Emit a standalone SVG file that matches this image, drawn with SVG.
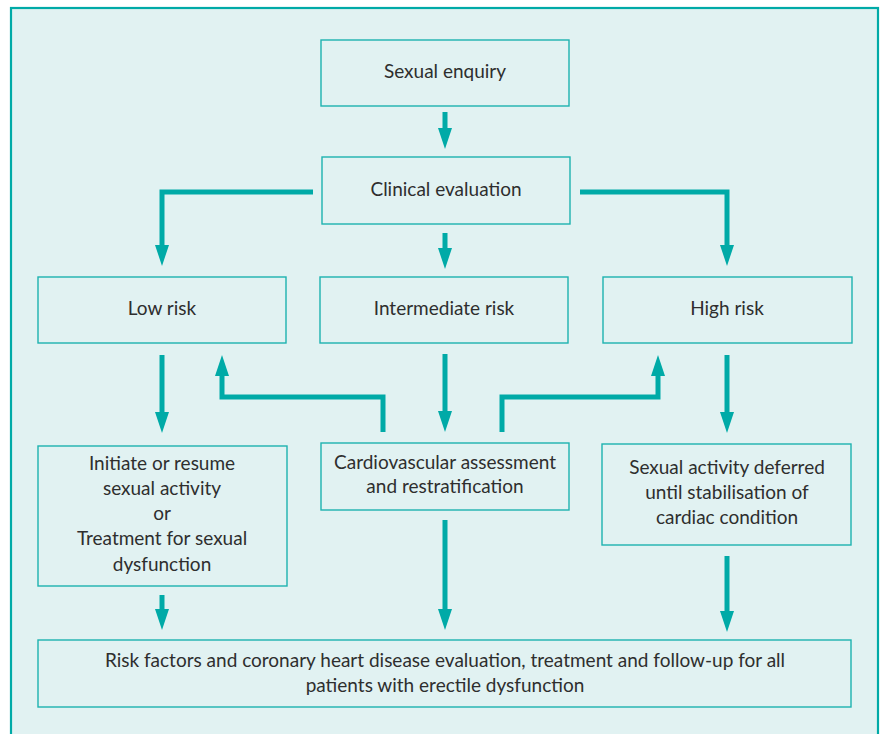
<svg xmlns="http://www.w3.org/2000/svg" width="881" height="734" viewBox="0 0 881 734">
<defs>
<marker id="ah" markerUnits="userSpaceOnUse" markerWidth="22" markerHeight="14" refX="0" refY="7" orient="auto">
<path d="M0,0 L21,7 L0,14 z" fill="#00aaa7"/>
</marker>
<style>
.box{fill:#e1f2f2;stroke:#1db3b0;stroke-width:1.4}
.t{font-family:Lato,"Open Sans","Liberation Sans",sans-serif;font-size:19px;fill:#2e2e2e;text-anchor:middle}
.c{fill:none;stroke:#00aaa7;stroke-width:5;stroke-linejoin:miter;stroke-linecap:butt;marker-end:url(#ah)}
</style>
</defs>
<rect x="0" y="0" width="881" height="734" fill="#ffffff"/>
<rect x="11" y="8" width="867" height="740" fill="#e1f2f2" stroke="#00aaa7" stroke-width="2.2"/>

<g id="connectors">
<path class="c" d="M445,112 V128"/>
<path class="c" d="M313,192 H162 V245"/>
<path class="c" d="M445,233 V248"/>
<path class="c" d="M580,192 H727 V245"/>
<path class="c" d="M162,355 V412"/>
<path class="c" d="M383,432 V397 H222 V376"/>
<path class="c" d="M445,354 V411"/>
<path class="c" d="M502,432 V397 H658 V376"/>
<path class="c" d="M727,355 V412"/>
<path class="c" d="M162,595 V609"/>
<path class="c" d="M445,520 V609"/>
<path class="c" d="M727,556 V611"/>
</g>

<g id="sexual-enquiry">
<rect class="box" x="321" y="40" width="248" height="66"/>
<text class="t" x="445" y="78">Sexual enquiry</text>
</g>
<g id="clinical-evaluation">
<rect class="box" x="322" y="157" width="248" height="67"/>
<text class="t" x="446" y="196">Clinical evaluation</text>
</g>
<g id="low-risk">
<rect class="box" x="38" y="277" width="248" height="66"/>
<text class="t" x="162" y="315">Low risk</text>
</g>
<g id="intermediate-risk">
<rect class="box" x="320" y="277" width="248" height="66"/>
<text class="t" x="444" y="315">Intermediate risk</text>
</g>
<g id="high-risk">
<rect class="box" x="603" y="277" width="249" height="66"/>
<text class="t" x="727" y="315">High risk</text>
</g>
<g id="initiate">
<rect class="box" x="38" y="446" width="249" height="140"/>
<text class="t" x="162" y="470">Initiate or resume</text>
<text class="t" x="162" y="495">sexual activity</text>
<text class="t" x="162" y="520">or</text>
<text class="t" x="162" y="545">Treatment for sexual</text>
<text class="t" x="162" y="571">dysfunction</text>
</g>
<g id="cardiovascular">
<rect class="box" x="321" y="443" width="248" height="67"/>
<text class="t" x="445" y="469">Cardiovascular assessment</text>
<text class="t" x="445" y="493">and restratification</text>
</g>
<g id="deferred">
<rect class="box" x="602" y="444" width="249" height="101"/>
<text class="t" x="727" y="474">Sexual activity deferred</text>
<text class="t" x="727" y="499">until stabilisation of</text>
<text class="t" x="727" y="524">cardiac condition</text>
</g>
<g id="risk-factors">
<rect class="box" x="38" y="640" width="813" height="67"/>
<text class="t" x="445" y="667">Risk factors and coronary heart disease evaluation, treatment and follow-up for all</text>
<text class="t" x="445" y="692">patients with erectile dysfunction</text>
</g>
</svg>
